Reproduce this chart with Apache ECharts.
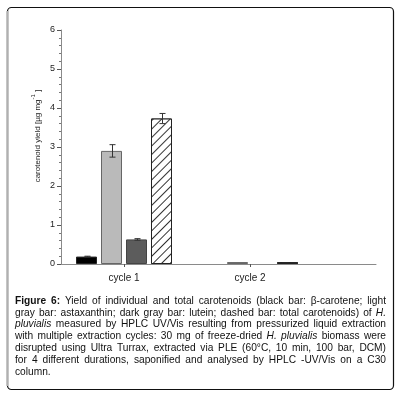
<!DOCTYPE html>
<html>
<head>
<meta charset="utf-8">
<script src="https://cdn.jsdelivr.net/npm/echarts@6/dist/echarts.min.js"></script>
<style>
  html, body { margin: 0; padding: 0; background: #fff; }
  #chart { width: 400px; height: 397px; }
</style>
</head>
<body>
<div id="chart"></div>
<script>
// category slots on the x axis (only two are labelled, like the original)
var categories = ['', 'cycle 1', '', 'cycle 2', '', ''];
var seriesNames = ['β-carotene', 'astaxanthin', 'lutein', 'total carotenoids'];

// yields in µg/mg, one entry per category slot ('-' = nothing drawn)
var betaCarotene = ['-', 0.19, '-', '-', '-', '-'];
var astaxanthin  = ['-', 2.90, '-', 0.05, '-', '-'];
var lutein       = ['-', 0.63, '-', '-', '-', '-'];
var totalCarot   = ['-', 3.73, '-', 0.05, '-', '-'];

// standard deviations
var betaErr  = [0, 0.01, 0, 0, 0, 0];
var astaErr  = [0, 0.16, 0, 0, 0, 0];
var luteErr  = [0, 0.02, 0, 0, 0, 0];
var totalErr = [0, 0.13, 0, 0, 0, 0];

var yTicks = [0, 1, 2, 3, 4, 5, 6];

var captionLines = [
  'b:Figure b:6: Yield of individual and total carotenoids (black bar: β-carotene; light',
  'gray bar: astaxanthin; dark gray bar: lutein; dashed bar: total carotenoids) of i:H.',
  'i:pluvialis measured by HPLC UV/Vis resulting from pressurized liquid extraction',
  'with multiple extraction cycles: 30 mg of freeze-dried i:H. i:pluvialis biomass were',
  'disrupted using Ultra Turrax, extracted via PLE (60°C, 10 min, 100 bar, DCM)',
  'for 4 different durations, saponified and analysed by HPLC -UV/Vis on a C30',
  'column.'
];

var BAR_W = 21;
var BAR_GAP = 4;
var FONT = '"Liberation Sans", Arial, sans-serif';

var chart = echarts.init(document.getElementById('chart'));

function errorSeries(idx, values, errs) {
  var data = [];
  values.forEach(function (v, i) {
    if (v !== '-' && errs[i]) data.push([i, v - errs[i], v + errs[i]]);
  });
  return {
    type: 'custom',
    name: seriesNames[idx] + ' sd',
    z: 5,
    silent: true,
    encode: { x: 0, y: [1, 2] },
    data: data,
    renderItem: function (params, api) {
      var off = (idx - 1.5) * (BAR_W + BAR_GAP);
      var hi = api.coord([api.value(0), api.value(2)]);
      var lo = api.coord([api.value(0), api.value(1)]);
      var x = Math.round(hi[0] + off) + 0.5;
      var c = 3;
      var st = { stroke: '#333', lineWidth: 1 };
      return {
        type: 'group',
        children: [
          { type: 'line', shape: { x1: x, y1: hi[1], x2: x, y2: lo[1] }, style: st },
          { type: 'line', shape: { x1: x - c, y1: hi[1], x2: x + c, y2: hi[1] }, style: st },
          { type: 'line', shape: { x1: x - c, y1: lo[1], x2: x + c, y2: lo[1] }, style: st }
        ]
      };
    }
  };
}

// caption, justified word by word
var measureCtx = document.createElement('canvas').getContext('2d');
var CAP_SIZE = 10.2;
var CAP_LEFT = 15, CAP_RIGHT = 386, CAP_TOP = 301, CAP_STEP = 11.8;

function captionGraphics() {
  var out = [];
  captionLines.forEach(function (line, li) {
    var words = line.split(' ').map(function (w) {
      var bold = w.indexOf('b:') === 0, italic = w.indexOf('i:') === 0;
      var t = (bold || italic) ? w.slice(2) : w;
      measureCtx.font = (italic ? 'italic ' : '') + (bold ? 'bold ' : '') + CAP_SIZE + 'px ' + FONT;
      return { t: t, bold: bold, italic: italic, w: measureCtx.measureText(t).width };
    });
    measureCtx.font = CAP_SIZE + 'px ' + FONT;
    var space = measureCtx.measureText(' ').width;
    var sum = words.reduce(function (a, w) { return a + w.w; }, 0);
    var last = li === captionLines.length - 1;
    var gap = last ? space : (CAP_RIGHT - CAP_LEFT - sum) / (words.length - 1);
    var x = CAP_LEFT;
    words.forEach(function (w) {
      out.push({
        type: 'text',
        x: x,
        y: CAP_TOP + li * CAP_STEP,
        silent: true,
        style: {
          text: w.t,
          fill: '#111',
          fontSize: CAP_SIZE,
          fontFamily: FONT,
          fontWeight: w.bold ? 'bold' : 'normal',
          fontStyle: w.italic ? 'italic' : 'normal',
          verticalAlign: 'middle'
        }
      });
      x += w.w + gap;
    });
  });
  return out;
}

var barBase = {
  type: 'bar',
  barWidth: BAR_W,
  barGap: (BAR_GAP / BAR_W * 100) + '%'
};

var option = {
  animation: false,
  backgroundColor: '#fff',
  grid: { left: 61, right: 24, top: 30, bottom: 133 },
  xAxis: {
    type: 'category',
    data: categories,
    boundaryGap: false,
    axisLine: { lineStyle: { color: '#8a8a8a', width: 1 } },
    axisTick: {
      length: 3,
      lineStyle: { color: '#555' },
      interval: function (i) { return categories[i] !== ''; }
    },
    axisLabel: { color: '#222', fontSize: 10, fontFamily: FONT, margin: 9, interval: 0 },
    splitLine: { show: false }
  },
  yAxis: {
    type: 'value',
    min: yTicks[0],
    max: yTicks[yTicks.length - 1],
    interval: 1,
    axisLine: { show: true, lineStyle: { color: '#8a8a8a', width: 1 } },
    axisTick: { show: true, length: 4, lineStyle: { color: '#555' } },
    minorTick: { show: true, splitNumber: 5, length: 2, lineStyle: { color: '#777' } },
    axisLabel: { color: '#222', fontSize: 9, fontFamily: FONT, margin: 6 },
    splitLine: { show: false }
  },
  series: [
    Object.assign({}, barBase, {
      name: seriesNames[0], data: betaCarotene,
      itemStyle: { color: '#000', borderColor: '#222', borderWidth: 1 }
    }),
    Object.assign({}, barBase, {
      name: seriesNames[1], data: astaxanthin,
      itemStyle: { color: '#bababa', borderColor: '#666', borderWidth: 1 }
    }),
    Object.assign({}, barBase, {
      name: seriesNames[2], data: lutein,
      itemStyle: { color: '#5c5c5c', borderColor: '#444', borderWidth: 1 }
    }),
    Object.assign({}, barBase, {
      name: seriesNames[3], data: totalCarot,
      itemStyle: {
        color: '#fff', borderColor: '#222', borderWidth: 1,
        decal: {
          symbol: 'rect',
          color: '#333',
          backgroundColor: '#fff',
          dashArrayX: [1, 0],
          dashArrayY: [1, 5],
          rotation: -Math.PI / 4
        }
      }
    }),
    errorSeries(0, betaCarotene, betaErr),
    errorSeries(1, astaxanthin, astaErr),
    errorSeries(2, lutein, luteErr),
    errorSeries(3, totalCarot, totalErr)
  ],
  graphic: [
    {
      type: 'rect', silent: true,
      shape: { x: 7.5, y: 7.5, width: 386, height: 382, r: 4 },
      style: { fill: 'none', stroke: '#111', lineWidth: 1.2 }
    },
    {
      type: 'line', silent: true,
      shape: { x1: 7.5, y1: 11, x2: 7.5, y2: 386 },
      style: { stroke: '#b0b0b0', lineWidth: 2.2 }
    },
    {
      type: 'text', silent: true,
      x: 36, y: 136, rotation: Math.PI / 2,
      style: {
        text: '{m|carotenoid yield [µg mg}{s|-1}{m| ]}',
        align: 'center',
        verticalAlign: 'middle',
        rich: {
          m: { fontSize: 8, fontFamily: FONT, fill: '#222', lineHeight: 11, verticalAlign: 'bottom' },
          s: { fontSize: 6, fontFamily: FONT, fill: '#222', lineHeight: 11, verticalAlign: 'top' }
        }
      }
    }
  ].concat(captionGraphics())
};

chart.setOption(option);
</script>
</body>
</html>
